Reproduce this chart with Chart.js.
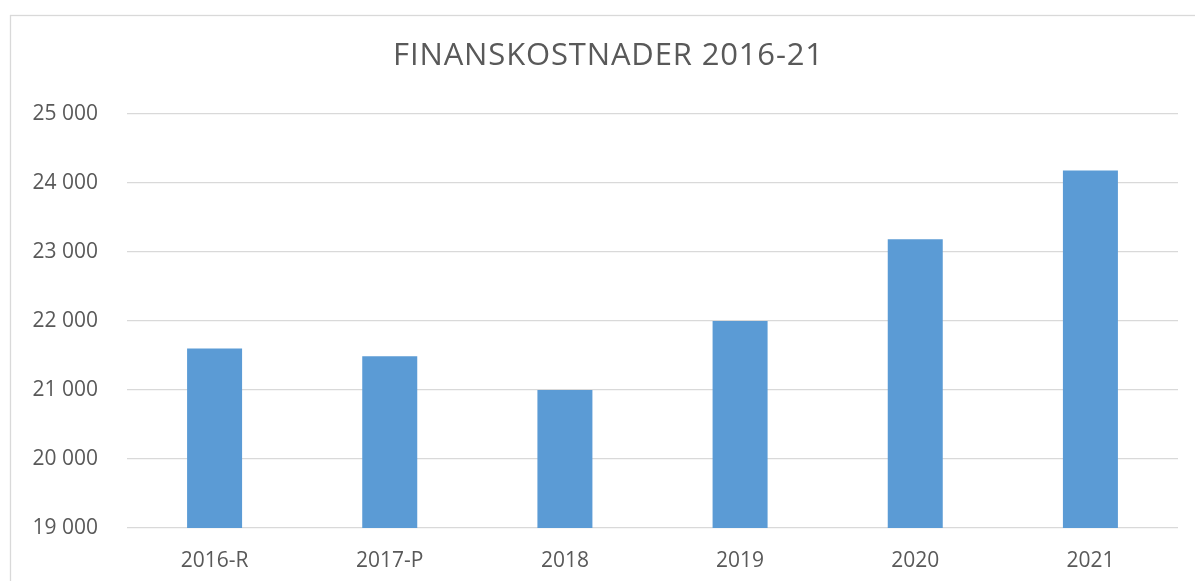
<!DOCTYPE html>
<html>
<head>
<meta charset="utf-8">
<script src="https://cdn.jsdelivr.net/npm/chart.js@4"></script>
<style>
  html, body { margin: 0; padding: 0; background: #ffffff; overflow: hidden; }
  #c { display: block; }
</style>
</head>
<body>
<canvas id="c" width="1195" height="581"></canvas>
<script>
const titleText = "FINANSKOSTNADER 2016-21";
const categories = ["2016-R", "2017-P", "2018", "2019", "2020", "2021"];
const values = [21600, 21490, 21000, 22000, 23185, 24180];
const yMin = 19000;
const yMax = 25000;
const yStep = 1000;

const textColor = "#595959";
const fontFamily = "'Open Sans', 'Liberation Sans', sans-serif";

function fmt(v) {
  return String(v).replace(/\B(?=(\d{3})+(?!\d))/g, " ");
}

const frameAndTitle = {
  id: "frameAndTitle",
  beforeDraw(chart) {
    const ctx = chart.ctx;
    ctx.save();
    ctx.fillStyle = "#ffffff";
    ctx.fillRect(0, 0, chart.width, chart.height);
    ctx.strokeStyle = "#d9d9d9";
    ctx.lineWidth = 1.3;
    ctx.strokeRect(10.5, 15.5, 2000, 2000);
    ctx.restore();
  },
  afterDraw(chart) {
    const ctx = chart.ctx;
    ctx.save();
    ctx.fillStyle = textColor;
    ctx.font = "31px " + fontFamily;
    if ("letterSpacing" in ctx) ctx.letterSpacing = "0.85px";
    ctx.textAlign = "center";
    ctx.textBaseline = "alphabetic";
    ctx.fillText(titleText, 608.5, 65);
    ctx.restore();
  }
};

new Chart(document.getElementById("c"), {
  type: "bar",
  data: {
    labels: categories,
    datasets: [{
      data: values,
      backgroundColor: "#5b9bd5",
      borderWidth: 0,
      barPercentage: 0.314,
      categoryPercentage: 1.0
    }]
  },
  options: {
    responsive: false,
    animation: false,
    layout: { padding: { top: 114, right: 17, bottom: 0, left: 0 } },
    plugins: {
      legend: { display: false },
      title: { display: false },
      tooltip: { enabled: false }
    },
    scales: {
      x: {
        grid: { display: false, drawTicks: false },
        border: { display: false },
        ticks: {
          color: textColor,
          font: { family: fontFamily, size: 21 },
          padding: 20,
          maxRotation: 0
        },
        afterFit(s) { s.height = 53; }
      },
      y: {
        min: yMin,
        max: yMax,
        grid: { color: "#d9d9d9", lineWidth: 1.3, drawTicks: false },
        border: { display: false },
        ticks: {
          stepSize: yStep,
          color: textColor,
          font: { family: fontFamily, size: 21 },
          padding: 29,
          callback: (v) => fmt(v)
        },
        afterFit(s) { s.width = 127; }
      }
    }
  },
  plugins: [frameAndTitle]
});
</script>
</body>
</html>
